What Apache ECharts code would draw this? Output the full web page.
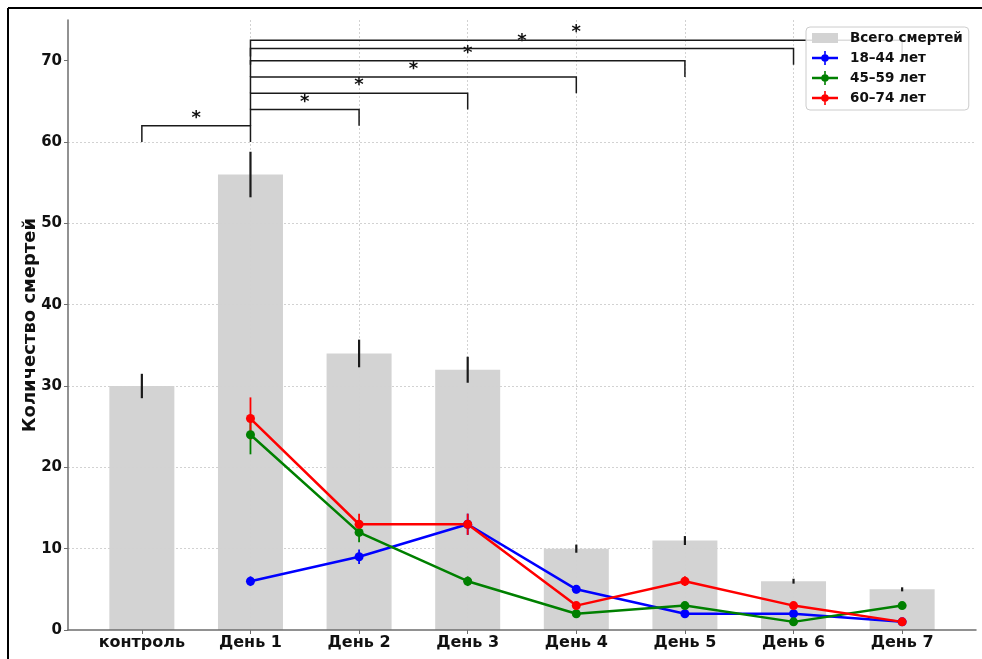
<!DOCTYPE html>
<html>
<head>
<meta charset="utf-8">
<title>Количество смертей по дням</title>
<script src="https://cdn.jsdelivr.net/npm/echarts@6/dist/echarts.min.js"></script>
<style>
  html, body { margin: 0; padding: 0; background: #fff; }
  #chart { width: 982px; height: 659px; }
</style>
</head>
<body>
<div id="chart"></div>
<script>
// Categories along the x axis
const categories = ['контроль', 'День 1', 'День 2', 'День 3', 'День 4', 'День 5', 'День 6', 'День 7'];

// Total deaths per period and their error margins
const totalDeaths = [30, 56, 34, 32, 10, 11, 6, 5];
const totalErr = [1.5, 2.8, 1.7, 1.6, 0.5, 0.55, 0.3, 0.25];

// Deaths by age group (no data for the control period)
const age18_44 = [null, 6, 9, 13, 5, 2, 2, 1];
const age18_44Err = [null, 0.6, 0.9, 1.3, 0.5, 0.2, 0.2, 0.1];
const age45_59 = [null, 24, 12, 6, 2, 3, 1, 3];
const age45_59Err = [null, 2.4, 1.2, 0.6, 0.2, 0.3, 0.1, 0.3];
const age60_74 = [null, 26, 13, 13, 3, 6, 3, 1];
const age60_74Err = [null, 2.6, 1.3, 1.3, 0.3, 0.6, 0.3, 0.1];

// Significance brackets: [from index, to index, bracket height]
const brackets = [[0, 1, 62], [1, 2, 64], [1, 3, 66], [1, 4, 68], [1, 5, 70], [1, 6, 71.5], [1, 7, 72.5]];
const bracketDrop = 2;      // leg length, in data units
const starLift = 1.3;       // star height above bracket, in data units

// Axis ticks
const yTicks = [0, 10, 20, 30, 40, 50, 60, 70];
const xTicks = [0, 1, 2, 3, 4, 5, 6, 7];

const FONT = 'DejaVu Sans';

function pairs(values) {
  const out = [];
  values.forEach((v, i) => { if (v !== null) out.push([i, v]); });
  return out;
}
function errRows(values, errs) {
  const out = [];
  values.forEach((v, i) => { if (v !== null) out.push([i, v - errs[i], v + errs[i]]); });
  return out;
}

function errorBarSeries(values, errs, color, width, z) {
  return {
    type: 'custom',
    z: z,
    silent: true,
    encode: { x: 0, y: [1, 2] },
    data: errRows(values, errs),
    renderItem: function (params, api) {
      const lo = api.coord([api.value(0), api.value(1)]);
      const hi = api.coord([api.value(0), api.value(2)]);
      return {
        type: 'line',
        shape: { x1: lo[0], y1: lo[1], x2: hi[0], y2: hi[1] },
        style: { stroke: color, lineWidth: width }
      };
    }
  };
}

function lineSeries(name, values, color) {
  return {
    name: name,
    type: 'line',
    z: 5,
    data: pairs(values),
    symbol: 'circle',
    symbolSize: 9,
    showAllSymbol: true,
    lineStyle: { color: color, width: 2.5 },
    itemStyle: { color: color, borderWidth: 0 },
    emphasis: { disabled: true }
  };
}

const lineIcon = 'path://M0,5.8H26V8.2H0Z M12.2,0H13.8V14H12.2Z M16.8,7A3.8,3.8,0,1,1,9.2,7A3.8,3.8,0,1,1,16.8,7Z';

const chart = echarts.init(document.getElementById('chart'), null, { renderer: 'canvas' });

chart.setOption({
  animation: false,
  textStyle: { fontFamily: FONT },
  grid: { left: 68, right: 6, top: 20, bottom: 29, containLabel: false },
  legend: {
    orient: 'vertical',
    left: 806,
    top: 27,
    z: 20,
    padding: [4, 6, 5, 6],
    itemWidth: 26,
    itemHeight: 14,
    itemGap: 6,
    backgroundColor: 'rgba(255,255,255,0.85)',
    borderColor: '#cccccc',
    borderWidth: 1,
    borderRadius: 4,
    textStyle: { fontFamily: FONT, fontWeight: 'bold', fontSize: 13.5, color: '#111', padding: [0, 0, 0, 7] },
    selectedMode: false,
    data: [
      { name: 'Всего смертей', icon: 'path://M0,0H26V10H0Z' },
      { name: '18–44 лет', icon: lineIcon },
      { name: '45–59 лет', icon: lineIcon },
      { name: '60–74 лет', icon: lineIcon }
    ]
  },
  xAxis: {
    type: 'value',
    min: -0.68,
    max: 7.68,
    z: 1,
    axisLine: { show: true, onZero: false, lineStyle: { color: '#6e6e6e', width: 1.5 } },
    axisTick: { show: true, length: 4, customValues: xTicks, lineStyle: { color: '#6e6e6e' } },
    axisLabel: {
      customValues: xTicks,
      margin: 5,
      fontFamily: FONT, fontWeight: 'bold', fontSize: 16, color: '#111',
      formatter: function (v) { return categories[Math.round(v)]; }
    },
    splitLine: { show: true, showMinLine: false, showMaxLine: false, lineStyle: { color: '#d2d2d2', type: [2, 2], width: 1 } }
  },
  yAxis: {
    type: 'value',
    min: 0,
    max: 75,
    z: 1,
    name: 'Количество смертей',
    nameLocation: 'middle',
    nameGap: 29,
    nameMoveOverlap: false,
    nameTextStyle: { fontFamily: FONT, fontWeight: 'bold', fontSize: 18, color: '#111' },
    axisLine: { show: true, onZero: false, lineStyle: { color: '#6e6e6e', width: 1.5 } },
    axisTick: { show: true, length: 4, customValues: yTicks, lineStyle: { color: '#6e6e6e' } },
    axisLabel: {
      customValues: yTicks,
      margin: 6,
      fontFamily: FONT, fontWeight: 'bold', fontSize: 15, color: '#111'
    },
    splitLine: { show: true, showMinLine: false, showMaxLine: false, lineStyle: { color: '#d2d2d2', type: [2, 2], width: 1 } }
  },
  graphic: [
    { type: 'line', z: 100, shape: { x1: 8, y1: 8, x2: 982, y2: 8 }, style: { stroke: '#000', lineWidth: 2 } },
    { type: 'line', z: 100, shape: { x1: 8, y1: 8, x2: 8, y2: 659 }, style: { stroke: '#000', lineWidth: 2 } }
  ],
  series: [
    {
      name: 'Всего смертей',
      type: 'bar',
      z: 0,
      data: pairs(totalDeaths),
      barWidth: 65,
      itemStyle: { color: '#d3d3d3' },
      emphasis: { disabled: true }
    },
    errorBarSeries(totalDeaths, totalErr, '#1a1a1a', 2.2, 3),
    errorBarSeries(age18_44, age18_44Err, '#0000ff', 1.8, 4),
    errorBarSeries(age45_59, age45_59Err, '#008000', 1.8, 4),
    errorBarSeries(age60_74, age60_74Err, '#ff0000', 1.8, 4),
    lineSeries('18–44 лет', age18_44, '#0000ff'),
    lineSeries('45–59 лет', age45_59, '#008000'),
    lineSeries('60–74 лет', age60_74, '#ff0000'),
    {
      type: 'custom',
      z: 6,
      silent: true,
      encode: { x: [0, 1], y: 2 },
      data: brackets,
      renderItem: function (params, api) {
        const x1 = api.value(0), x2 = api.value(1), h = api.value(2);
        const a = api.coord([x1, h - bracketDrop]);
        const b = api.coord([x1, h]);
        const c = api.coord([x2, h]);
        const d = api.coord([x2, h - bracketDrop]);
        const s = api.coord([(x1 + x2) / 2, h + starLift]);
        return {
          type: 'group',
          children: [
            { type: 'polyline', shape: { points: [a, b, c, d] }, style: { stroke: '#1a1a1a', lineWidth: 1.5, fill: null } },
            { type: 'text', x: s[0], y: s[1] + 3, style: { text: '*', fontFamily: FONT, fontWeight: 'bold', fontSize: 18, fill: '#111', align: 'center', verticalAlign: 'middle' } }
          ]
        };
      }
    }
  ]
});
</script>
</body>
</html>
